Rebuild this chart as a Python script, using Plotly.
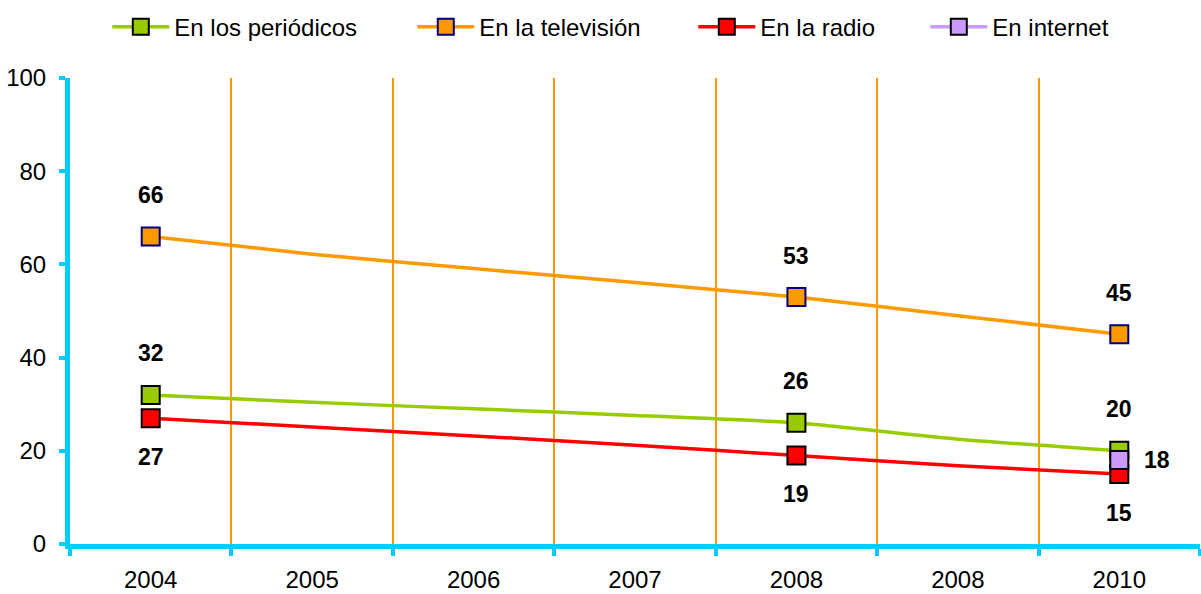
"""Media trust lines (Plotly)."""

from __future__ import annotations

import plotly.graph_objects as go

YEARS = ["2004", "2005", "2006", "2007", "2008", "2008", "2010"]
SURVEYED = [0, 4, 6]  # points that carry a marker and a label

PERIODICOS = [32, 30.4, 29.0, 27.6, 26, 22.5, 20]
TELEVISION = [66, 62.2, 59.1, 56.1, 53, 49.0, 45]
RADIO = [27, 25.1, 23.2, 21.2, 19, 16.8, 15]
INTERNET = [None, None, None, None, None, None, 18]

Y_TICKS = [0, 20, 40, 60, 80, 100]

FONT = "Liberation Sans, Arial, sans-serif"
CYAN = "#00CCFF"

# name, values, line colour, marker border, label (dx, dy), legend entry width
SERIES = [
    ("En los periódicos", PERIODICOS, "#99CC00", "#000000", (0, 42), 233),
    ("En la televisión", TELEVISION, "#FF9900", "#000080", (0, 41), 209),
    ("En la radio", RADIO, "#FF0000", "#000000", (0, -39), 160),
    ("En internet", INTERNET, "#CC99FF", "#000000", (38, 0), 160),
]


def build_figure() -> go.Figure:
    fig = go.Figure()
    x = list(range(len(YEARS)))

    for name, values, color, border, (dx, dy), lw in SERIES:
        # smooth line through every year
        fig.add_trace(
            go.Scatter(
                x=x,
                y=values,
                mode="lines",
                line=dict(color=color, width=3.5, shape="spline", smoothing=0.5),
                legendgroup=name,
                showlegend=False,
                hoverinfo="skip",
            )
        )
        marked = [v if i in SURVEYED else None for i, v in enumerate(values)]
        fig.add_trace(
            go.Scatter(
                x=x,
                y=marked,
                name=name,
                mode="lines+markers",
                connectgaps=False,
                line=dict(color=color, width=3.5),
                marker=dict(symbol="square", size=18, color=color,
                            line=dict(color=border, width=2)),
                legendgroup=name,
                legendwidth=lw,
            )
        )
        for i, v in enumerate(marked):
            if v is None:
                continue
            fig.add_annotation(
                x=i, y=v, text=f"<b>{v:g}</b>", showarrow=False,
                xshift=dx, yshift=dy,
                font=dict(family=FONT, size=23, color="#000000"),
            )

    fig.update_layout(
        width=1201,
        height=594,
        margin=dict(l=70, r=1, t=78, b=48),
        plot_bgcolor="white",
        paper_bgcolor="white",
        font=dict(family=FONT, size=24, color="#000000"),
        showlegend=True,
        legend=dict(
            orientation="h", x=0.033, xanchor="left", y=1.109, yanchor="middle",
            font=dict(family=FONT, size=24), itemwidth=57,
            bgcolor="rgba(0,0,0,0)",
        ),
    )
    fig.update_xaxes(
        range=[-0.5, len(YEARS) - 0.5],
        tickmode="array",
        tickvals=x,
        ticktext=YEARS,
        ticks="",
        ticklabelstandoff=10,
        showgrid=False,
        zeroline=False,
        showline=True,
        linecolor=CYAN,
        linewidth=5,
        tickfont=dict(size=24),
        minor=dict(
            tickmode="array",
            tickvals=[i - 0.5 for i in range(len(YEARS) + 1)],
            ticks="outside",
            ticklen=7,
            tickwidth=4,
            tickcolor=CYAN,
            showgrid=True,
            gridcolor="#FF9900",
            gridwidth=1.5,
        ),
    )
    fig.update_yaxes(
        range=[0, 100],
        tickmode="array",
        tickvals=Y_TICKS,
        ticks="outside",
        ticklen=6,
        tickwidth=4,
        tickcolor=CYAN,
        ticklabelstandoff=8,
        showgrid=False,
        zeroline=False,
        showline=True,
        linecolor=CYAN,
        linewidth=5,
        tickfont=dict(size=24),
    )
    return fig


fig = build_figure()
fig.write_html(
    "out.html",
    config={"displayModeBar": False},
    post_script="document.body.style.margin = '0';",
)
